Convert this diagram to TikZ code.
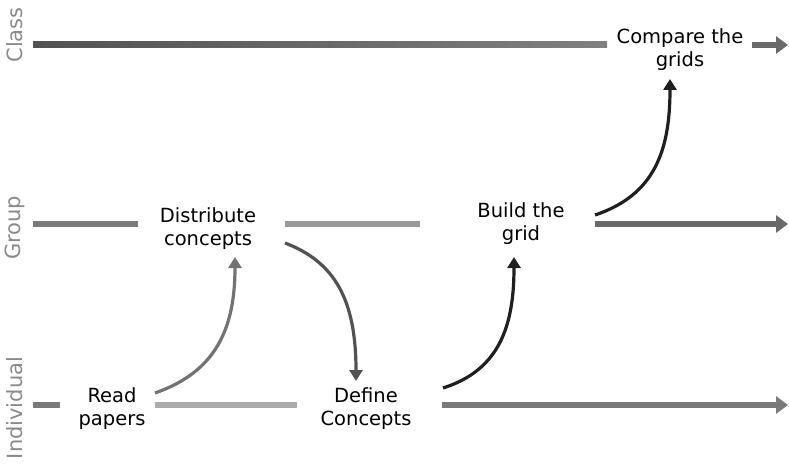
\documentclass[tikz,border=0pt]{standalone}
\usepackage{fontspec}
\setmainfont{DejaVu Sans}
\usetikzlibrary{arrows.meta}
\definecolor{laneA}{HTML}{7A7A7A}
\definecolor{laneB}{HTML}{9A9A9A}
\definecolor{laneC}{HTML}{6A6A6A}
\definecolor{lbl}{HTML}{8A8A8A}
\tikzset{
  stepbox/.style={align=center,font=\fontsize{19.5}{23}\selectfont,inner sep=0pt},
  lanelbl/.style={rotate=90,font=\fontsize{21}{24}\selectfont,text=lbl,inner sep=0pt},
  lane/.style={line width=6pt},
  lanearrow/.style={line width=6pt,-{Triangle[length=12pt,width=17pt]}},
  flow/.style={line width=3.2pt,-{Triangle[length=11pt,width=13pt]}},
}
\begin{document}
\begin{tikzpicture}[x=1pt,y=-1pt]
\useasboundingbox (0,0) rectangle (789,465);
% lane labels
\node[lanelbl] (lclass) at (15,35) {Class};
\node[lanelbl] (lgroup) at (15,228) {Group};
\node[lanelbl] (lind) at (15,408) {Individual};
% step nodes
\node[stepbox] (compare) at (680,50) {Compare the\\grids};
\node[stepbox] (distr) at (208,229) {Distribute\\concepts};
\node[stepbox] (build) at (521,224) {Build the\\grid};
\node[stepbox] (read) at (112,409) {Read\\papers};
\node[stepbox] (define) at (366,409) {Define\\Concepts};
% lane endpoints
\coordinate (c0) at (33,45); \coordinate (c1) at (607,45);
\coordinate (c2) at (752,45); \coordinate (c3) at (788,45);
\coordinate (g0) at (33,224); \coordinate (g1) at (138,224);
\coordinate (g2) at (285,224); \coordinate (g3) at (420,224);
\coordinate (g4) at (595,224); \coordinate (g5) at (788,224);
\coordinate (i0) at (33,405); \coordinate (i1) at (60,405);
\coordinate (i2) at (155,405); \coordinate (i3) at (297,405);
\coordinate (i4) at (442,405); \coordinate (i5) at (788,405);
% lanes
\shade[left color=black!68,right color=black!50] (33,42) rectangle (607,48);
\draw[lanearrow,color=laneC] (c2) -- (c3);
\draw[lane,color=laneA] (g0) -- (g1);
\draw[lane,color=laneB] (g2) -- (g3);
\draw[lanearrow,color=laneC] (g4) -- (g5);
\draw[lane,color=laneA] (i0) -- (i1);
\draw[lane,color=black!33] (i2) -- (i3);
\draw[lanearrow,color=black!52] (i4) -- (i5);
% flow arrows
\coordinate (a1s) at (155,393); \coordinate (a1e) at (235,257);
\coordinate (a2s) at (285,243); \coordinate (a2e) at (356,381);
\coordinate (a3s) at (443,388); \coordinate (a3e) at (514,257);
\coordinate (a4s) at (595,215); \coordinate (a4e) at (670,79);
\draw[flow,color=black!55] (a1s) .. controls (215,372) and (235,330) .. (a1e);
\draw[flow,color=black!68] (a2s) .. controls (335,262) and (356,300) .. (a2e);
\draw[flow,color=black!88] (a3s) .. controls (500,370) and (514,325) .. (a3e);
\draw[flow,color=black!88] (a4s) .. controls (655,195) and (670,150) .. (a4e);
\end{tikzpicture}
\end{document}
